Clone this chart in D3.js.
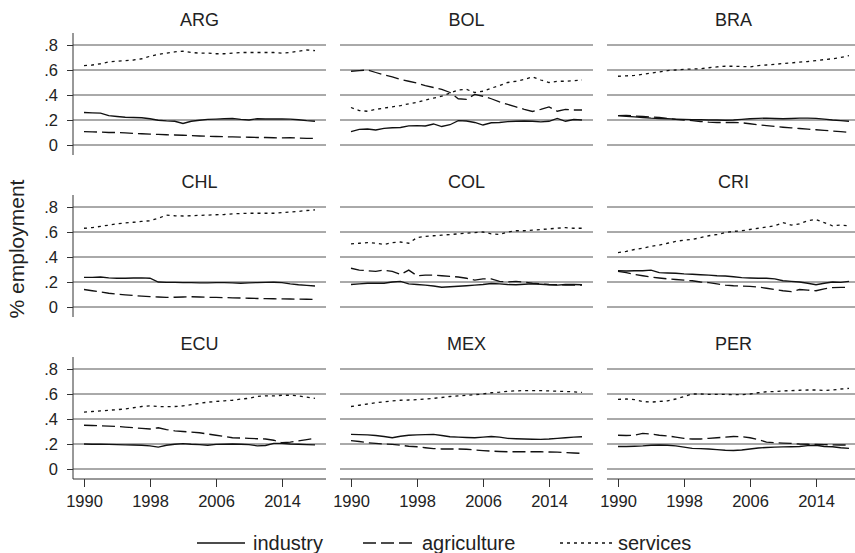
<!DOCTYPE html>
<html>
<head>
<meta charset="utf-8">
<script src="https://cdn.jsdelivr.net/npm/d3@7"></script>
<style>
  body { margin: 0; background: #fff; }
  text { font-family: "Liberation Sans", Arial, Helvetica, sans-serif; fill: #222; }
</style>
</head>
<body>
<div id="chart"></div>
<script>
const years = d3.range(1990, 2019);
const countries = ["ARG", "BOL", "BRA", "CHL", "COL", "CRI", "ECU", "MEX", "PER"];
const yTicks = [0, 0.2, 0.4, 0.6, 0.8];
const xTicks = [1990, 1998, 2006, 2014];
const sectors = ["industry", "agriculture", "services"];

// share of employment by sector, 1990-2018
const industry = {
  ARG: [.26,.257,.255,.235,.228,.222,.22,.218,.21,.198,.193,.19,.172,.19,.198,.205,.207,.21,.212,.205,.20,.21,.208,.208,.208,.207,.202,.195,.19],
  BOL: [.107,.125,.128,.12,.133,.138,.14,.153,.155,.152,.168,.148,.162,.195,.192,.18,.16,.178,.18,.187,.19,.192,.19,.185,.19,.213,.19,.204,.20],
  BRA: [.235,.23,.225,.22,.215,.212,.21,.207,.205,.203,.202,.20,.20,.198,.20,.205,.21,.213,.215,.212,.21,.212,.215,.215,.213,.207,.20,.195,.19],
  CHL: [.237,.237,.24,.233,.23,.23,.232,.233,.23,.20,.197,.197,.195,.195,.193,.193,.195,.195,.193,.19,.193,.195,.197,.198,.195,.185,.178,.173,.168],
  COL: [.18,.185,.19,.19,.19,.20,.205,.185,.18,.175,.168,.158,.162,.166,.17,.175,.18,.188,.185,.18,.178,.182,.185,.182,.178,.175,.18,.18,.178],
  CRI: [.29,.288,.29,.29,.295,.275,.272,.27,.265,.262,.258,.255,.25,.248,.242,.235,.232,.23,.23,.225,.21,.205,.20,.19,.178,.19,.20,.197,.205],
  ECU: [.20,.198,.198,.197,.195,.193,.192,.19,.185,.175,.19,.198,.203,.198,.195,.19,.197,.198,.20,.198,.195,.185,.188,.205,.205,.20,.198,.195,.193],
  MEX: [.277,.275,.273,.268,.26,.25,.262,.27,.273,.275,.277,.268,.258,.255,.252,.25,.255,.26,.255,.245,.242,.24,.238,.237,.24,.245,.25,.255,.258],
  PER: [.18,.18,.182,.185,.19,.192,.19,.185,.175,.165,.163,.16,.155,.15,.148,.152,.16,.168,.172,.175,.177,.178,.18,.187,.19,.18,.178,.17,.165]
};
const agriculture = {
  ARG: [.107,.105,.103,.10,.10,.097,.093,.09,.087,.085,.082,.08,.078,.075,.072,.07,.068,.066,.065,.063,.062,.06,.06,.058,.057,.058,.055,.053,.053],
  BOL: [.59,.595,.60,.58,.56,.545,.525,.51,.495,.475,.46,.445,.42,.37,.365,.405,.39,.37,.345,.325,.305,.285,.268,.285,.305,.27,.285,.28,.28],
  BRA: [.235,.237,.232,.228,.225,.22,.212,.205,.20,.195,.188,.183,.18,.18,.18,.178,.17,.162,.155,.148,.142,.137,.132,.127,.122,.117,.112,.107,.102],
  CHL: [.14,.13,.12,.11,.102,.097,.092,.087,.083,.08,.077,.078,.08,.082,.08,.078,.077,.075,.073,.072,.07,.068,.067,.066,.065,.064,.063,.062,.061],
  COL: [.31,.295,.29,.285,.295,.285,.26,.295,.25,.255,.255,.25,.245,.24,.23,.215,.225,.225,.205,.20,.205,.198,.19,.185,.18,.178,.176,.176,.176],
  CRI: [.285,.275,.26,.25,.24,.232,.225,.22,.215,.21,.20,.195,.185,.175,.17,.168,.165,.16,.15,.14,.13,.123,.14,.135,.13,.145,.155,.157,.157],
  ECU: [.35,.348,.345,.343,.34,.335,.33,.325,.32,.33,.315,.305,.30,.295,.29,.28,.27,.26,.25,.248,.245,.242,.24,.23,.21,.215,.225,.235,.245],
  MEX: [.227,.22,.21,.205,.20,.197,.19,.182,.178,.17,.163,.16,.16,.16,.158,.152,.147,.143,.14,.138,.138,.138,.138,.138,.136,.135,.132,.128,.125],
  PER: [.27,.268,.27,.285,.28,.27,.265,.255,.245,.24,.24,.245,.25,.255,.26,.258,.25,.235,.215,.21,.207,.205,.20,.198,.196,.195,.193,.192,.192]
};
const services = {
  ARG: [.635,.64,.65,.665,.67,.675,.68,.69,.71,.725,.735,.745,.75,.74,.735,.735,.73,.73,.735,.74,.74,.74,.74,.74,.735,.74,.75,.76,.755],
  BOL: [.30,.275,.27,.285,.295,.305,.315,.33,.34,.36,.375,.39,.415,.44,.445,.42,.43,.455,.475,.50,.51,.525,.545,.52,.50,.51,.51,.515,.52],
  BRA: [.55,.553,.557,.565,.575,.585,.595,.60,.605,.608,.61,.618,.625,.63,.63,.628,.625,.635,.64,.645,.652,.657,.663,.668,.675,.683,.69,.70,.715],
  CHL: [.63,.635,.645,.655,.665,.672,.678,.685,.69,.71,.735,.73,.728,.73,.733,.735,.738,.74,.745,.748,.75,.75,.75,.75,.755,.76,.765,.772,.777],
  COL: [.505,.51,.515,.51,.50,.515,.52,.51,.555,.565,.57,.575,.58,.585,.59,.595,.60,.585,.58,.60,.61,.61,.615,.62,.625,.63,.635,.63,.63],
  CRI: [.435,.445,.46,.47,.485,.495,.51,.525,.535,.54,.555,.57,.58,.595,.605,.61,.62,.63,.64,.65,.675,.655,.665,.69,.70,.675,.65,.655,.65],
  ECU: [.455,.46,.465,.47,.475,.48,.49,.50,.505,.50,.498,.50,.505,.515,.525,.535,.54,.545,.55,.56,.565,.58,.585,.585,.59,.59,.585,.575,.565],
  MEX: [.50,.51,.52,.53,.537,.545,.55,.552,.555,.56,.565,.572,.58,.585,.59,.595,.60,.61,.615,.622,.625,.627,.627,.627,.625,.622,.62,.617,.613],
  PER: [.557,.56,.555,.54,.535,.54,.545,.56,.58,.60,.60,.597,.597,.597,.595,.595,.60,.61,.618,.62,.625,.627,.63,.632,.632,.628,.632,.64,.645]
};
const seriesData = { industry, agriculture, services };
const dashes = { industry: null, agriculture: "13,5", services: "3,4" };

const width = 855, height = 553;
const colX = [73, 340, 607], rowY = [33, 195, 357];
const pw = 253, ph = 122;

const svg = d3.select("#chart").append("svg")
  .attr("width", width)
  .attr("height", height);

const x = d3.scaleLinear().domain([1990 - 11 / 8.25, 1990 + (pw - 11) / 8.25]).range([0, pw]);
const y = d3.scaleLinear().domain([-0.08, 0.896]).range([ph, 0]);

const fmtY = d => d === 0 ? "0" : d3.format(".1f")(d).replace(/^0/, "");

const line = d3.line().x((d, i) => x(years[i])).y(d => y(d));

countries.forEach((c, k) => {
  const row = Math.floor(k / 3), col = k % 3;
  const g = svg.append("g").attr("transform", `translate(${colX[col]},${rowY[row]})`);

  // gridlines
  g.selectAll(".grid").data(yTicks).enter().append("line")
    .attr("x1", 0).attr("x2", pw)
    .attr("y1", d => y(d)).attr("y2", d => y(d))
    .attr("stroke", "#555").attr("stroke-width", 1);

  g.append("text")
    .attr("x", pw / 2).attr("y", -7)
    .attr("text-anchor", "middle")
    .style("font-size", "18px")
    .text(c);

  if (col === 0) {
    const ax = g.append("g")
      .call(d3.axisLeft(y).tickValues(yTicks).tickFormat(fmtY).tickSize(6).tickPadding(9));
    ax.select(".domain").attr("d", `M0,0V${ph}`).attr("stroke", "#333");
    ax.selectAll(".tick line").attr("stroke", "#333");
    ax.selectAll("text").style("font-size", "16.5px").attr("fill", "#222")
      .style("font-family", '"Liberation Sans", Arial, sans-serif');
  }
  if (row === 2) {
    const ax = g.append("g").attr("transform", `translate(0,${ph})`)
      .call(d3.axisBottom(x).tickValues(xTicks).tickFormat(d3.format("d")).tickSize(8).tickPadding(8));
    ax.select(".domain").attr("d", `M0,0H${pw}`).attr("stroke", "#333");
    ax.selectAll(".tick line").attr("stroke", "#333");
    ax.selectAll("text").style("font-size", "16.5px").attr("fill", "#222")
      .style("font-family", '"Liberation Sans", Arial, sans-serif');
  }

  sectors.forEach(s => {
    g.append("path")
      .datum(seriesData[s][c])
      .attr("d", line)
      .attr("fill", "none")
      .attr("stroke", "#111")
      .attr("stroke-width", 1.3)
      .attr("stroke-dasharray", dashes[s]);
  });
});

// y axis title
svg.append("text")
  .attr("transform", "translate(24,249) rotate(-90)")
  .attr("text-anchor", "middle")
  .style("font-size", "21px")
  .text("% employment");

// legend
const legendPos = [
  { s: "industry", x1: 197, x2: 245, tx: 253 },
  { s: "agriculture", x1: 363, x2: 413, tx: 422 },
  { s: "services", x1: 560, x2: 612, tx: 618 }
];
const legend = svg.append("g");
legend.selectAll("line").data(legendPos).enter().append("line")
  .attr("x1", d => d.x1).attr("x2", d => d.x2)
  .attr("y1", 543).attr("y2", 543)
  .attr("stroke", "#111").attr("stroke-width", 1.3)
  .attr("stroke-dasharray", d => dashes[d.s]);
legend.selectAll("text").data(legendPos).enter().append("text")
  .attr("x", d => d.tx).attr("y", 550)
  .style("font-size", "20px")
  .text(d => d.s);
</script>
</body>
</html>
